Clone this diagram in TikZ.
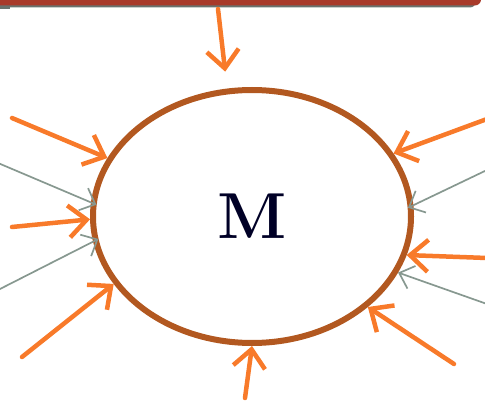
\documentclass[tikz,border=0pt]{standalone}
\usepackage{tikz}
\usetikzlibrary{shapes.geometric, arrows.meta}
\definecolor{ringbrown}{RGB}{178,88,32}
\definecolor{pushorange}{RGB}{248,122,42}
\definecolor{pullgray}{RGB}{135,152,144}
\definecolor{barred}{RGB}{168,58,42}
\definecolor{bargray}{RGB}{105,115,110}
\tikzset{
    ring/.style={draw=ringbrown, ellipse, line width=6pt, minimum width=318pt, minimum height=253pt, inner sep=0pt, font=\fontsize{65}{65}\selectfont\bfseries, text=black!85!blue},
    push/.style={draw=pushorange, line width=4.5pt, line cap=round, -{Straight Barb[length=18pt, width=32pt]}},
    pull/.style={draw=pullgray, line width=1.7pt, -{Straight Barb[length=13pt, width=24pt]}, shorten >=-6pt}
}
\begin{document}
\begin{tikzpicture}[x=1pt, y=-1pt]
        \useasboundingbox (0,0) rectangle (485,401);

        % -----------------------------------------------------------------
        % BARRA IN ALTO
        % -----------------------------------------------------------------
        \fill[bargray] (0,0) rectangle (10,9.5);
        \fill[bargray, rounded corners=6pt] (0,-8) rectangle (476,7.5);
        \fill[barred, rounded corners=6pt] (-8,-10) rectangle (481,5.5);

        % -----------------------------------------------------------------
        % ELLISSE CENTRALE
        % -----------------------------------------------------------------
        \node[ring] (M) at (252,216.5) {M};

        % -----------------------------------------------------------------
        % FRECCE ARANCIONI
        % -----------------------------------------------------------------
        \coordinate (o1) at (218,9);
        \coordinate (o2) at (12,118);
        \coordinate (o3) at (12,227);
        \coordinate (o4) at (22,357);
        \coordinate (o5) at (245,398);
        \coordinate (o6) at (454,364);
        \coordinate (o7) at (487,258);
        \coordinate (o8) at (487,119);

        \draw[push, shorten >=17pt] (o1) -- (M.101);
        \draw[push] (o2) -- (M.158.7);
        \draw[push] (o3) -- (M.181.2);
        \draw[push] (o4) -- (M.206.6);
        \draw[push] (o5) -- (M.270.4);
        \draw[push] (o6) -- (M.322.9);
        \draw[push] (o7) -- (M.346);
        \draw[push] (o8) -- (M.24.6);

        % -----------------------------------------------------------------
        % FRECCE GRIGIE
        % -----------------------------------------------------------------
        \coordinate (g1) at (-2,163);
        \coordinate (g2) at (-2,290);
        \coordinate (g3) at (487,170);
        \coordinate (g4) at (487,304);

        \draw[pull] (g1) -- (M.175.7);
        \draw[pull] (g2) -- (M.189.9);
        \draw[pull] (g3) -- (M.4.3);
        \draw[pull, shorten >=0pt] (g4) -- (M.339.7);

    \end{tikzpicture}
\end{document}
